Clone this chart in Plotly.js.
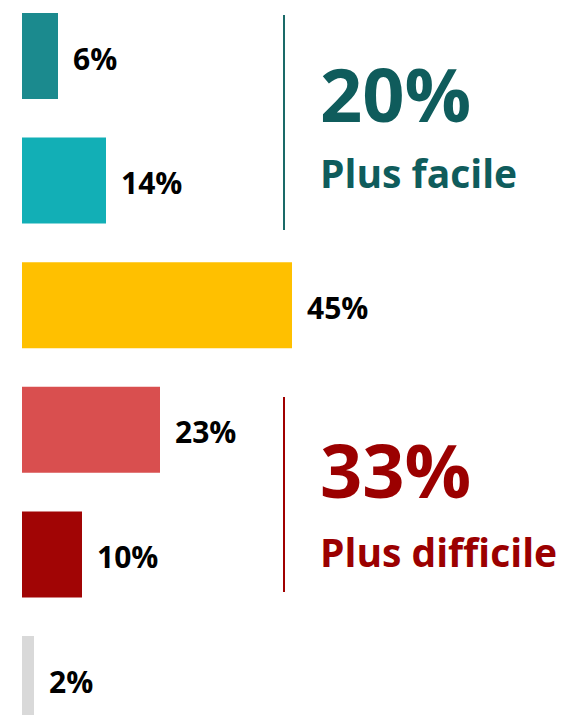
<!DOCTYPE html>
<html>
<head>
<meta charset="utf-8">
<script src="https://cdn.plot.ly/plotly-3.0.1.min.js"></script>
<style>html,body{margin:0;padding:0;background:#fff;}#chart{width:566px;height:715px;}</style>
</head>
<body>
<div id="chart"></div>
<script>
var categories = ["Beaucoup plus facile", "Un peu plus facile", "Ni plus ni moins", "Un peu plus difficile", "Beaucoup plus difficile", "NSP"];
var values = [6, 14, 45, 23, 10, 2];
var valueLabels = ["6%", "14%", "45%", "23%", "10%", "2%"];
var barColors = ["#1b8a8e", "#12afb6", "#ffc000", "#d94f4f", "#a10505", "#d9d9d9"];
var summaryValues = ["20%", "33%"];
var summaryLabels = ["Plus facile", "Plus difficile"];
var summaryColors = ["#0f5c5c", "#9b0000"];

var F = "'Open Sans', 'Liberation Sans', Arial, sans-serif";
var W = 566, H = 715, L = 22;
function px(x){ return (x - L) / (W - L); }
function py(y){ return 1 - y / H; }

var idx = categories.map(function(_, i){ return i; });

var trace = {
  type: "bar",
  orientation: "h",
  x: values,
  y: idx,
  width: 0.69,
  marker: {color: barColors},
  hoverinfo: "skip",
  text: categories,
  textposition: "none"
};

var annotations = values.map(function(v, i){
  return {x: v, y: i, xref: "x", yref: "y", text: "<b>" + valueLabels[i] + "</b>", showarrow: false,
    xanchor: "left", yanchor: "middle", xshift: 13, yshift: -2,
    font: {family: F, size: 30, color: "#000"}};
});

var bigY = [93, 470];
var subY = [172, 551];
for (var k = 0; k < 2; k++) {
  annotations.push({x: px(318), y: py(bigY[k]), xref: "paper", yref: "paper",
    text: "<b>" + summaryValues[k] + "</b>", showarrow: false, xanchor: "left", yanchor: "middle",
    font: {family: F, size: 74, color: summaryColors[k]}});
  annotations.push({x: px(318), y: py(subY[k]), xref: "paper", yref: "paper",
    text: "<b>" + summaryLabels[k] + "</b>", showarrow: false, xanchor: "left", yanchor: "middle",
    font: {family: F, size: 39, color: summaryColors[k]}});
}

var shapes = [
  {type: "line", xref: "paper", yref: "paper", x0: px(284), x1: px(284), y0: py(15), y1: py(230),
   line: {color: "#1a6a68", width: 2}},
  {type: "line", xref: "paper", yref: "paper", x0: px(284), x1: px(284), y0: py(397), y1: py(592),
   line: {color: "#a00000", width: 2}}
];

var spacing = 124.6;
var r0 = -56 / spacing;
var r1 = r0 + H / spacing;

var layout = {
  width: W, height: H,
  margin: {l: L, r: 0, t: 0, b: 0, pad: 0},
  paper_bgcolor: "#fff", plot_bgcolor: "#fff",
  showlegend: false,
  xaxis: {range: [0, (W - L) / 6], visible: false, fixedrange: true},
  yaxis: {range: [r1, r0], visible: false, fixedrange: true},
  annotations: annotations,
  shapes: shapes
};

Plotly.newPlot("chart", [trace], layout, {staticPlot: true, displayModeBar: false});
</script>
</body>
</html>
